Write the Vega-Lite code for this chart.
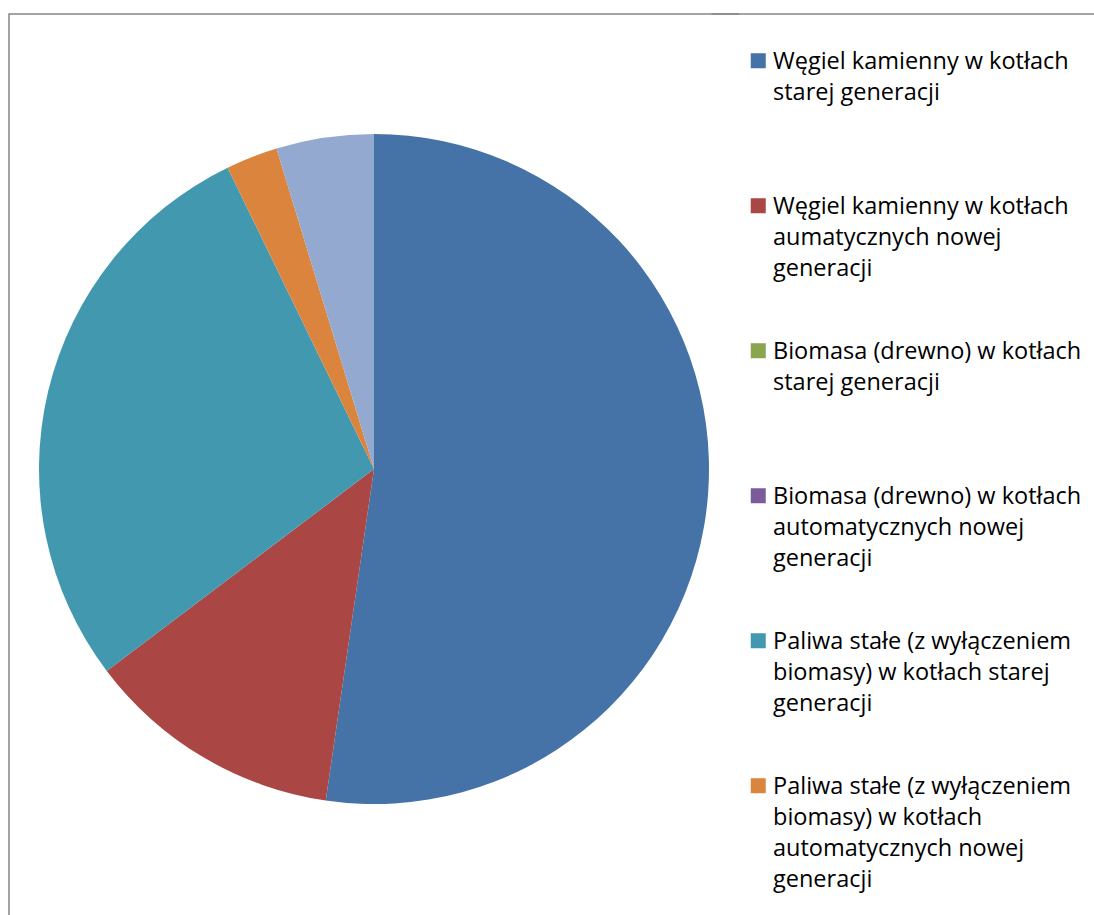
{
  "$schema": "https://vega.github.io/schema/vega-lite/v6.json",
  "width": 730,
  "height": 910,
  "padding": {"left": 9, "top": 13, "right": 0, "bottom": 0},
  "background": "white",
  "view": {"stroke": "#878787", "strokeWidth": 1.5, "strokeDash": [730, 1640, 910]},
  "config": {
    "font": "Open Sans"
  },
  "data": {
    "values": [
      {"k": 1, "kategoria": "Węgiel kamienny w kotłach\nstarej generacji", "udzial": 52.3},
      {"k": 2, "kategoria": "Węgiel kamienny w kotłach\naumatycznych nowej\ngeneracji", "udzial": 12.4},
      {"k": 3, "kategoria": "Biomasa (drewno) w kotłach\nstarej generacji", "udzial": 0},
      {"k": 4, "kategoria": "Biomasa (drewno) w kotłach\nautomatycznych nowej\ngeneracji", "udzial": 0},
      {"k": 5, "kategoria": "Paliwa stałe (z wyłączeniem\nbiomasy) w kotłach starej\ngeneracji", "udzial": 28.1},
      {"k": 6, "kategoria": "Paliwa stałe (z wyłączeniem\nbiomasy) w kotłach\nautomatycznych nowej\ngeneracji", "udzial": 2.5},
      {"k": 7, "kategoria": "Gaz ziemny", "udzial": 4.7}
    ]
  },
  "mark": {"type": "arc", "outerRadius": 335},
  "encoding": {
    "theta": {"field": "udzial", "type": "quantitative", "stack": true},
    "order": {"field": "k", "type": "quantitative"},
    "color": {
      "field": "kategoria",
      "type": "nominal",
      "sort": null,
      "scale": {
        "domain": [
          "Węgiel kamienny w kotłach\nstarej generacji",
          "Węgiel kamienny w kotłach\naumatycznych nowej\ngeneracji",
          "Biomasa (drewno) w kotłach\nstarej generacji",
          "Biomasa (drewno) w kotłach\nautomatycznych nowej\ngeneracji",
          "Paliwa stałe (z wyłączeniem\nbiomasy) w kotłach starej\ngeneracji",
          "Paliwa stałe (z wyłączeniem\nbiomasy) w kotłach\nautomatycznych nowej\ngeneracji",
          "Gaz ziemny"
        ],
        "range": ["#4572A7", "#AA4643", "#89A54E", "#7A5C9A", "#4198AF", "#DB843D", "#93A9CF"]
      },
      "legend": {
        "title": null,
        "orient": "none",
        "legendX": 702.5,
        "legendY": 0,
        "padding": 35,
        "values": [
          "Węgiel kamienny w kotłach\nstarej generacji",
          "Węgiel kamienny w kotłach\naumatycznych nowej\ngeneracji",
          "Biomasa (drewno) w kotłach\nstarej generacji",
          "Biomasa (drewno) w kotłach\nautomatycznych nowej\ngeneracji",
          "Paliwa stałe (z wyłączeniem\nbiomasy) w kotłach starej\ngeneracji",
          "Paliwa stałe (z wyłączeniem\nbiomasy) w kotłach\nautomatycznych nowej\ngeneracji"
        ],
        "symbolType": "square",
        "symbolSize": 225,
        "symbolStrokeWidth": 0,
        "labelFont": "Open Sans",
        "labelFontSize": 23.5,
        "labelColor": "#000000",
        "labelBaseline": "alphabetic",
        "labelOffset": 3,
        "labelLimit": 400,
        "gridAlign": "all",
        "rowPadding": 27,
        "labelExpr": "split(datum.label, '\\n')",
        "strokeColor": "#878787",
        "encode": {
          "labels": {"update": {"lineHeight": {"value": 31}, "dy": {"value": 8}}},
          "legend": {"update": {"stroke": {"value": "#878787"}, "strokeWidth": {"value": 1.5}, "strokeDash": {"value": [1500, 100000]}}}
        }
      }
    }
  }
}
